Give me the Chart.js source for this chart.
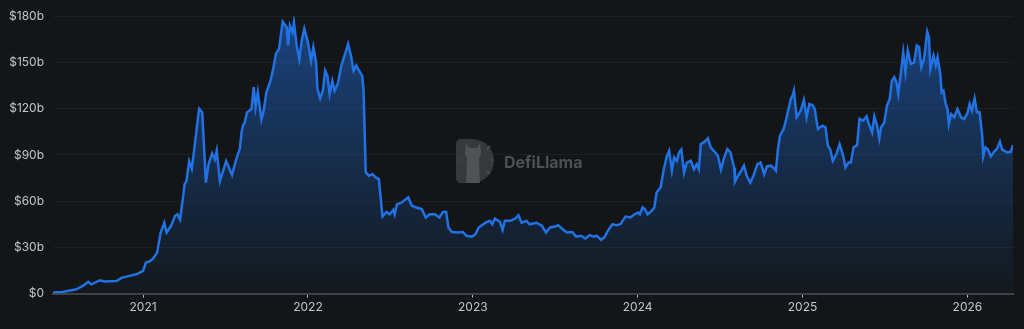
<!DOCTYPE html>
<html>
<head>
<meta charset="utf-8">
<script src="https://cdn.jsdelivr.net/npm/chart.js"></script>
<style>
  html, body { margin: 0; padding: 0; background: #131516; }
  #wrap { width: 1024px; height: 329px; position: relative; }
</style>
</head>
<body>
<div id="wrap"><canvas id="tvlChart"></canvas></div>
<script>
// dates (approx) and TVL in billions of USD
var dates = [
  "2020-06-15","2020-07-06","2020-08-06","2020-08-20","2020-09-01","2020-09-08","2020-09-27","2020-10-08",
  "2020-11-03","2020-11-14","2020-12-02","2020-12-17","2021-01-01","2021-01-07","2021-01-16","2021-01-23",
  "2021-02-01","2021-02-09","2021-02-17","2021-02-22","2021-03-04","2021-03-13","2021-03-18","2021-03-24",
  "2021-04-03","2021-04-07","2021-04-13","2021-04-19","2021-04-26","2021-05-05","2021-05-12","2021-05-20",
  "2021-05-26","2021-06-03","2021-06-09","2021-06-13","2021-06-20","2021-07-04","2021-07-17","2021-07-26",
  "2021-08-03","2021-08-07","2021-08-10","2021-08-14","2021-08-19","2021-08-29","2021-09-03","2021-09-07",
  "2021-09-12","2021-09-20","2021-09-25","2021-10-01","2021-10-10","2021-10-16","2021-10-22","2021-10-29",
  "2021-11-06","2021-11-15","2021-11-18","2021-11-22","2021-11-28","2021-12-01","2021-12-07","2021-12-13",
  "2021-12-18","2021-12-24","2022-01-01","2022-01-08","2022-01-13","2022-01-19","2022-01-22","2022-01-28",
  "2022-02-03","2022-02-08","2022-02-13","2022-02-18","2022-02-24","2022-03-01","2022-03-08","2022-03-16",
  "2022-03-23","2022-03-31","2022-04-07","2022-04-12","2022-04-18","2022-04-24","2022-05-01","2022-05-04",
  "2022-05-09","2022-05-16","2022-05-24","2022-05-31","2022-06-07","2022-06-15","2022-06-24","2022-07-01",
  "2022-07-09","2022-07-12","2022-07-17","2022-07-27","2022-08-04","2022-08-11","2022-08-19","2022-08-29",
  "2022-09-10","2022-09-19","2022-09-28","2022-10-09","2022-10-19","2022-10-27","2022-11-03","2022-11-08",
  "2022-11-16","2022-11-27","2022-12-10","2022-12-18","2022-12-30","2023-01-07","2023-01-14","2023-01-29",
  "2023-02-08","2023-02-13","2023-02-19","2023-03-02","2023-03-08","2023-03-13","2023-03-25","2023-04-05",
  "2023-04-12","2023-04-19","2023-04-30","2023-05-07","2023-05-22","2023-06-03","2023-06-12","2023-06-21",
  "2023-07-02","2023-07-09","2023-07-19","2023-07-28","2023-08-09","2023-08-18","2023-08-29","2023-09-07",
  "2023-09-17","2023-09-26","2023-10-03","2023-10-12","2023-10-19","2023-10-27","2023-11-06","2023-11-15",
  "2023-11-24","2023-12-05","2023-12-16","2023-12-25","2024-01-02","2024-01-06","2024-01-12","2024-01-17",
  "2024-01-23","2024-02-01","2024-02-07","2024-02-12","2024-02-21","2024-02-28","2024-03-06","2024-03-11",
  "2024-03-17","2024-03-22","2024-03-28","2024-04-02","2024-04-07","2024-04-13","2024-04-19","2024-04-28",
  "2024-05-05","2024-05-11","2024-05-16","2024-05-20","2024-05-29","2024-06-05","2024-06-11","2024-06-20",
  "2024-06-27","2024-07-04","2024-07-10","2024-07-18","2024-07-25","2024-08-02","2024-08-04","2024-08-11",
  "2024-08-18","2024-08-24","2024-08-30","2024-09-07","2024-09-14","2024-09-23","2024-09-30","2024-10-08",
  "2024-10-14","2024-10-23","2024-10-30","2024-11-03","2024-11-07","2024-11-12","2024-11-20","2024-11-25",
  "2024-11-30","2024-12-06","2024-12-10","2024-12-13","2024-12-19","2024-12-28","2025-01-04","2025-01-10",
  "2025-01-16","2025-01-24","2025-01-28","2025-02-04","2025-02-14","2025-02-21","2025-02-26","2025-03-03",
  "2025-03-09","2025-03-17","2025-03-24","2025-04-01","2025-04-06","2025-04-13","2025-04-18","2025-04-24",
  "2025-05-02","2025-05-07","2025-05-15","2025-05-23","2025-05-28","2025-06-04","2025-06-09","2025-06-15",
  "2025-06-20","2025-06-24","2025-07-01","2025-07-07","2025-07-13","2025-07-18","2025-07-23","2025-07-28",
  "2025-08-01","2025-08-06","2025-08-12","2025-08-17","2025-08-22","2025-08-29","2025-09-05","2025-09-11",
  "2025-09-16","2025-09-21","2025-09-27","2025-10-04","2025-10-08","2025-10-11","2025-10-18","2025-10-23",
  "2025-10-27","2025-11-02","2025-11-05","2025-11-09","2025-11-14","2025-11-18","2025-11-21","2025-11-26",
  "2025-12-03","2025-12-10","2025-12-18","2025-12-25","2026-01-01","2026-01-06","2026-01-11","2026-01-17",
  "2026-01-22","2026-01-28","2026-02-03","2026-02-05","2026-02-10","2026-02-15","2026-02-22","2026-03-01",
  "2026-03-08","2026-03-14","2026-03-19","2026-03-30","2026-04-07","2026-04-12"
];
var tvl = [
  0.7,1.1,2.8,5,7.6,6,8.6,7.8,
  8.2,10.2,11.5,12.5,14.7,20,21,22.7,
  26.6,39.6,46,39.6,44,50.5,51.5,48,
  71,73,86,81,98,120,117.6,72,
  84,91,87,92.7,73,86,77,87,
  93.8,104.6,109,111,117.6,119.8,134,121,
  130.6,113,118.7,130.6,138,145.7,155.5,158.8,
  176.5,172.8,161,174,169.6,176,161,152,
  164,172,163,151,160,150,132.8,126.7,
  131.7,144.7,141.4,129.5,138,131.7,136,148,
  154.4,162,153.4,144.7,148,144.7,141.4,132.8,
  78.6,76.5,77.5,75.4,74.3,50,53,51.5,
  54.4,51.5,58,59,60.9,62.4,57,55.9,
  54.8,49.4,51.5,51.5,49.4,53,53,42.9,
  40,39.6,40,37.5,37,38.5,42.9,46,
  47.2,45,48.7,46.6,41.4,47.2,47.2,48.7,
  50.9,46,47.2,45,46,44,39.6,42.9,
  43.5,44.4,41.8,39.6,40,37,37.5,35.7,
  37.9,37,37.5,34.9,36.4,40.7,45,44.4,
  45,50,49.4,51.5,52.6,51.5,55.9,54.8,
  51.5,53.7,55.9,65.6,68.9,80.7,89.5,92.7,
  79.7,88.4,86.2,91.6,93.4,78.6,85,86.2,
  80.7,84,80.7,97,98.6,100.7,94.9,92,
  89.5,80.4,87.3,93.8,91.6,81.9,72.6,76.5,
  79.7,83,76.5,72,76.5,84,85,77.5,
  82.5,83,81.2,79.7,92.7,102.5,106.8,112.2,
  118.7,126.3,128.5,131.7,114.4,118.7,125.7,114.4,
  123,122,119.8,106.8,109,107.9,96,93.8,
  86.2,90.5,97,89.5,81.9,85,85,94.9,
  96.4,113.3,112.2,115,110,104.6,115,109,
  100.7,107.9,111,122,126.3,138.2,140.4,137,
  129.5,141.4,156.6,143.6,157.7,149,150,161,
  160,146.8,152.2,170,166.3,145.7,154.4,148,
  153.4,142.5,130.6,131.7,123,119.8,110,116.5,
  114.4,119.8,114.4,113.3,117,123,118.7,126.7,
  117.6,117.6,102,89,94.9,93.8,89,92,
  94.2,98.6,93.4,91.6,92,96.4
];
var yTicks = [0, 30, 60, 90, 120, 150, 180];
var yearTicks = [2021, 2022, 2023, 2024, 2025, 2026];

// date string -> fractional year so a linear axis can place it
function toYear(s){
  var p = s.split('-');
  var y = +p[0];
  var t = Date.UTC(y, +p[1]-1, +p[2]);
  var a = Date.UTC(y, 0, 1), b = Date.UTC(y+1, 0, 1);
  return y + (t - a) / (b - a);
}

var points = [];
for (var i = 0; i < dates.length; i++) {
  points.push({x: toYear(dates[i]), y: tvl[i]});
}

var watermark = {
  id: 'watermark',
  beforeDatasetsDraw: function(chart){
    var ctx = chart.ctx, ca = chart.chartArea;
    var cx = (ca.left + ca.right) / 2 - 11;
    var cy = (ca.top + ca.bottom) / 2 + 6;
    ctx.save();
    // D shaped badge
    var x0 = cx - 66, y0 = cy - 22, h = 44;
    ctx.fillStyle = '#36383a';
    ctx.beginPath();
    ctx.moveTo(x0 + 5, y0);
    ctx.lineTo(x0 + 16, y0);
    ctx.arc(x0 + 16, y0 + h/2, h/2, -Math.PI/2, Math.PI/2);
    ctx.lineTo(x0 + 5, y0 + h);
    ctx.quadraticCurveTo(x0, y0 + h, x0, y0 + h - 5);
    ctx.lineTo(x0, y0 + 5);
    ctx.quadraticCurveTo(x0, y0, x0 + 5, y0);
    ctx.fill();
    // llama silhouette
    ctx.fillStyle = '#505355';
    ctx.beginPath();
    ctx.moveTo(x0 + 10, y0 + 4);
    ctx.lineTo(x0 + 13, y0 + 9);
    ctx.lineTo(x0 + 21, y0 + 9);
    ctx.lineTo(x0 + 24, y0 + 4);
    ctx.lineTo(x0 + 25, y0 + 14);
    ctx.lineTo(x0 + 23, y0 + 20);
    ctx.lineTo(x0 + 24, y0 + h);
    ctx.lineTo(x0 + 10, y0 + h);
    ctx.lineTo(x0 + 11, y0 + 20);
    ctx.lineTo(x0 + 9, y0 + 14);
    ctx.closePath();
    ctx.fill();
    ctx.strokeStyle = '#505355';
    ctx.lineWidth = 1.5;
    var marks = [[31, 10, 34, 7], [34, 21, 37, 21], [31, 32, 34, 35], [4, 21, 6, 21]];
    marks.forEach(function(m){
      ctx.beginPath();
      ctx.moveTo(x0 + m[0], y0 + m[1]);
      ctx.lineTo(x0 + m[2], y0 + m[3]);
      ctx.stroke();
    });
    ctx.fillStyle = '#4e5052';
    ctx.font = 'bold 16px Inter, "Open Sans", sans-serif';
    ctx.textAlign = 'left';
    ctx.textBaseline = 'middle';
    ctx.fillText('DefiLlama', cx - 18, cy + 2);
    ctx.restore();
  }
};

var ctx = document.getElementById('tvlChart').getContext('2d');
var tvlChart = new Chart(ctx, {
  type: 'line',
  data: {
    datasets: [{
      label: 'TVL',
      data: points,
      borderColor: '#2172e5',
      borderWidth: 2.5,
      pointRadius: 0,
      tension: 0,
      fill: 'origin',
      backgroundColor: function(c){
        var area = c.chart.chartArea;
        if (!area) return 'rgba(33,114,229,0.2)';
        var g = c.chart.ctx.createLinearGradient(0, area.top, 0, area.bottom);
        g.addColorStop(0, 'rgba(33,114,229,0.5)');
        g.addColorStop(1, 'rgba(33,114,229,0.04)');
        return g;
      }
    }]
  },
  options: {
    responsive: true,
    maintainAspectRatio: false,
    animation: false,
    layout: { padding: { top: 14, right: 11, bottom: 11, left: 0 } },
    plugins: { legend: { display: false }, tooltip: { enabled: false } },
    scales: {
      x: {
        type: 'linear',
        min: toYear(dates[0]),
        max: toYear(dates[dates.length - 1]),
        afterBuildTicks: function(s){ s.ticks = yearTicks.map(function(v){ return {value: v}; }); },
        ticks: {
          color: '#c4c6c8',
          font: { family: 'Inter', size: 12 },
          padding: 3,
          maxRotation: 0,
          autoSkip: false,
          callback: function(v){ return String(Math.round(v)); }
        },
        grid: { drawOnChartArea: false, drawTicks: true, tickLength: 4, color: '#b8babc' },
        border: { color: '#3e4144', width: 2 }
      },
      y: {
        min: 0,
        max: 180,
        afterBuildTicks: function(s){ s.ticks = yTicks.map(function(v){ return {value: v}; }); },
        afterFit: function(s){ s.width = 53; },
        ticks: {
          color: '#c4c6c8',
          font: { family: 'Inter', size: 12 },
          padding: 9,
          callback: function(v){ return v === 0 ? '$0' : '$' + v + 'b'; }
        },
        grid: { color: 'rgba(255,255,255,0.045)', drawTicks: false },
        border: { display: false }
      }
    }
  },
  plugins: [watermark]
});
</script>
</body>
</html>
